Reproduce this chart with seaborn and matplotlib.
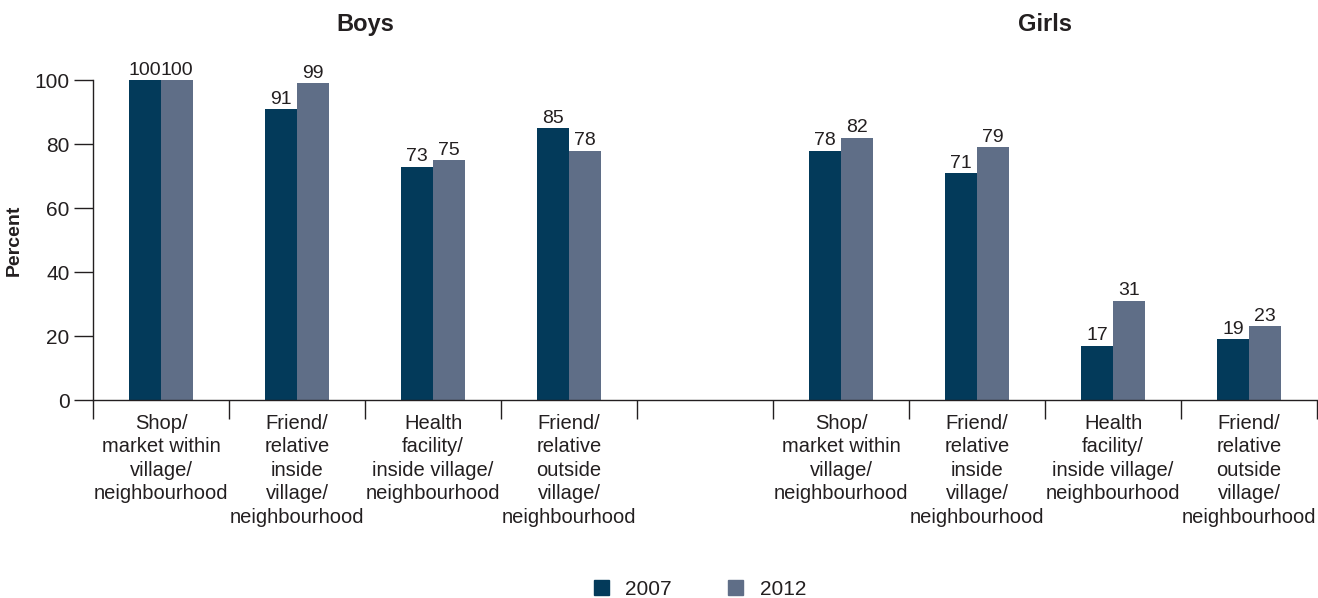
import matplotlib.pyplot as plt
import seaborn as sns
import numpy as np
import pandas as pd

# Data
places = [
    'Shop/\nmarket within\nvillage/\nneighbourhood',
    'Friend/\nrelative\ninside\nvillage/\nneighbourhood',
    'Health\nfacility/\ninside village/\nneighbourhood',
    'Friend/\nrelative\noutside\nvillage/\nneighbourhood',
]
boys_2007 = [100, 91, 73, 85]
boys_2012 = [100, 99, 75, 78]
girls_2007 = [78, 71, 17, 19]
girls_2012 = [82, 79, 31, 23]
years = ['2007', '2012']
colors = ['#033a5a', '#5f6e87']
text_color = '#231f20'

sns.set_theme(style='white')
plt.rcParams['font.family'] = ['Liberation Sans', 'DejaVu Sans']

# long table, keyed by group so Boys and Girls slots stay separate
rows = []
for i in range(len(places)):
    rows.append(('B%d' % i, '2007', boys_2007[i]))
    rows.append(('B%d' % i, '2012', boys_2012[i]))
for i in range(len(places)):
    rows.append(('G%d' % i, '2007', girls_2007[i]))
    rows.append(('G%d' % i, '2012', girls_2012[i]))
df = pd.DataFrame(rows, columns=['slot', 'year', 'value'])

order = ['B0', 'B1', 'B2', 'B3', 'gap', 'G0', 'G1', 'G2', 'G3']

fig = plt.figure(figsize=(13.18, 5.98), dpi=100)
ax = fig.add_axes([0.0706, 0.331, 0.9287, 0.535])

sns.barplot(data=df, x='slot', y='value', hue='year', order=order,
            hue_order=years, palette=colors, width=0.47, saturation=1,
            linewidth=0, ax=ax, legend=False, errorbar=None)

for cont in ax.containers:
    ax.bar_label(cont, labels=['%d' % v for v in cont.datavalues],
                 padding=1, fontsize=14, color=text_color, clip_on=False)

ax.set_xlim(-0.5, len(order) - 0.5)
ax.set_ylim(0, 100)
ax.set_yticks([0, 20, 40, 60, 80, 100])
ax.tick_params(axis='y', left=True, length=14, width=1, colors=text_color,
               labelsize=15, pad=3)

labels = places + [''] + places
ax.set_xticks(range(len(order)))
ax.set_xticklabels(labels, fontsize=14.5, color=text_color, linespacing=1.3)
ax.tick_params(axis='x', which='major', length=0, pad=10)
ax.set_xticks(np.arange(-0.5, len(order), 1.0), minor=True)
ax.tick_params(axis='x', which='minor', bottom=True, length=14, width=1,
               color=text_color)

for side in ['top', 'right']:
    ax.spines[side].set_visible(False)
for side in ['left', 'bottom']:
    ax.spines[side].set_color(text_color)
    ax.spines[side].set_linewidth(1)

ax.set_xlabel('')
ax.set_ylabel('Percent', fontsize=14, fontweight='bold', color=text_color,
              labelpad=8)

# group titles
ax.text(1.5, 1.175, 'Boys', transform=ax.get_xaxis_transform(),
        ha='center', va='center', fontsize=17, fontweight='bold', color=text_color)
ax.text(6.5, 1.175, 'Girls', transform=ax.get_xaxis_transform(),
        ha='center', va='center', fontsize=17, fontweight='bold', color=text_color)

# legend
handles = [plt.Rectangle((0, 0), 1, 1, color=c) for c in colors]
fig.legend(handles, years, loc='center', bbox_to_anchor=(0.531, 0.015),
           ncol=2, frameon=False, fontsize=15, handlelength=0.72,
           handleheight=0.72, columnspacing=2.7, handletextpad=0.8,
           labelcolor=text_color)

plt.savefig('out.png', dpi=100)
plt.close()
